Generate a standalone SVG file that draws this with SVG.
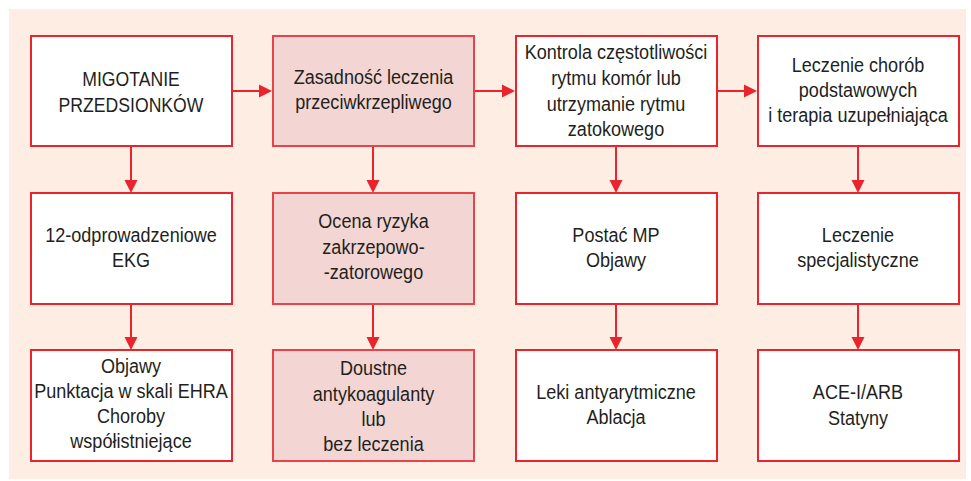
<svg xmlns="http://www.w3.org/2000/svg" width="971" height="481" viewBox="0 0 971 481">
<defs>
<style>
.bg{fill:#fdede2}
.box{fill:#ffffff;stroke:#e9242c;stroke-width:2}
.sh{fill:#f3d6d3;stroke:#e8434a;stroke-width:2}
.t{font-family:"Liberation Sans",Arial,sans-serif;font-size:21px;fill:#231f20;text-anchor:middle}
.c{stroke:#e9242c;stroke-width:2;fill:none}
.ah{fill:#e9242c}
</style>
</defs>
<rect class="bg" x="9" y="9" width="957" height="470"/>
<g id="connectors">
<line class="c" x1="232" y1="91" x2="260" y2="91"/><polygon class="ah" points="272,91 259,84.5 259,97.5"/>
<line class="c" x1="475" y1="91" x2="503" y2="91"/><polygon class="ah" points="515,91 502,84.5 502,97.5"/>
<line class="c" x1="717" y1="91" x2="745" y2="91"/><polygon class="ah" points="757,91 744,84.5 744,97.5"/>
<line class="c" x1="131" y1="147" x2="131" y2="181"/><polygon class="ah" points="131,193 124.5,180 137.5,180"/>
<line class="c" x1="373" y1="147" x2="373" y2="181"/><polygon class="ah" points="373,193 366.5,180 379.5,180"/>
<line class="c" x1="616" y1="147" x2="616" y2="181"/><polygon class="ah" points="616,193 609.5,180 622.5,180"/>
<line class="c" x1="858" y1="147" x2="858" y2="181"/><polygon class="ah" points="858,193 851.5,180 864.5,180"/>
<line class="c" x1="131" y1="304" x2="131" y2="338"/><polygon class="ah" points="131,350 124.5,337 137.5,337"/>
<line class="c" x1="373" y1="304" x2="373" y2="338"/><polygon class="ah" points="373,350 366.5,337 379.5,337"/>
<line class="c" x1="616" y1="304" x2="616" y2="338"/><polygon class="ah" points="616,350 609.5,337 622.5,337"/>
<line class="c" x1="858" y1="304" x2="858" y2="338"/><polygon class="ah" points="858,350 851.5,337 864.5,337"/>
</g>
<g id="n_af">
<rect class="box" x="31" y="36" width="201" height="110"/>
<text class="t" transform="translate(131 86) scale(.84 1)">MIGOTANIE</text>
<text class="t" transform="translate(131 112) scale(.84 1)">PRZEDSIONKÓW</text>
</g>
<g id="n_zasadnosc">
<rect class="sh" x="273" y="36" width="201" height="110"/>
<text class="t" transform="translate(373.5 84) scale(.86 1)">Zasadność leczenia</text>
<text class="t" transform="translate(373.5 109) scale(.86 1)">przeciwkrzepliwego</text>
</g>
<g id="n_kontrola">
<rect class="box" x="516" y="36" width="201" height="110"/>
<text class="t" transform="translate(616 59) scale(.86 1)">Kontrola częstotliwości</text>
<text class="t" transform="translate(616 85) scale(.86 1)">rytmu komór lub</text>
<text class="t" transform="translate(616 111) scale(.86 1)">utrzymanie rytmu</text>
<text class="t" transform="translate(616 136) scale(.86 1)">zatokowego</text>
</g>
<g id="n_leczenie_chorob">
<rect class="box" x="758" y="36" width="201" height="110"/>
<text class="t" transform="translate(858 72) scale(.86 1)">Leczenie chorób</text>
<text class="t" transform="translate(858 97) scale(.86 1)">podstawowych</text>
<text class="t" transform="translate(858 122) scale(.86 1)">i terapia uzupełniająca</text>
</g>
<g id="n_ekg">
<rect class="box" x="31" y="193" width="201" height="111"/>
<text class="t" transform="translate(131 242) scale(.86 1)">12-odprowadzeniowe</text>
<text class="t" transform="translate(131 267) scale(.86 1)">EKG</text>
</g>
<g id="n_ocena">
<rect class="sh" x="273" y="193" width="201" height="111"/>
<text class="t" transform="translate(373.5 228) scale(.86 1)">Ocena ryzyka</text>
<text class="t" transform="translate(373.5 254) scale(.86 1)">zakrzepowo-</text>
<text class="t" transform="translate(373.5 279) scale(.86 1)">-zatorowego</text>
</g>
<g id="n_postac">
<rect class="box" x="516" y="193" width="201" height="111"/>
<text class="t" transform="translate(616 242) scale(.86 1)">Postać MP</text>
<text class="t" transform="translate(616 267) scale(.86 1)">Objawy</text>
</g>
<g id="n_specjalistyczne">
<rect class="box" x="758" y="193" width="201" height="111"/>
<text class="t" transform="translate(858 242) scale(.86 1)">Leczenie</text>
<text class="t" transform="translate(858 267) scale(.86 1)">specjalistyczne</text>
</g>
<g id="n_objawy">
<rect class="box" x="31" y="350" width="201" height="111"/>
<text class="t" transform="translate(131 373) scale(.86 1)">Objawy</text>
<text class="t" transform="translate(131 398) scale(.86 1)">Punktacja w skali EHRA</text>
<text class="t" transform="translate(131 423) scale(.86 1)">Choroby</text>
<text class="t" transform="translate(131 448) scale(.86 1)">współistniejące</text>
</g>
<g id="n_doustne">
<rect class="sh" x="273" y="350" width="201" height="111"/>
<text class="t" transform="translate(373.5 375) scale(.86 1)">Doustne</text>
<text class="t" transform="translate(373.5 401) scale(.86 1)">antykoagulanty</text>
<text class="t" transform="translate(373.5 426) scale(.86 1)">lub</text>
<text class="t" transform="translate(373.5 451) scale(.86 1)">bez leczenia</text>
</g>
<g id="n_leki">
<rect class="box" x="516" y="350" width="201" height="111"/>
<text class="t" transform="translate(616 399) scale(.86 1)">Leki antyarytmiczne</text>
<text class="t" transform="translate(616 424) scale(.86 1)">Ablacja</text>
</g>
<g id="n_ace">
<rect class="box" x="758" y="350" width="201" height="111"/>
<text class="t" transform="translate(858 399) scale(.86 1)">ACE-I/ARB</text>
<text class="t" transform="translate(858 425) scale(.86 1)">Statyny</text>
</g>
</svg>
